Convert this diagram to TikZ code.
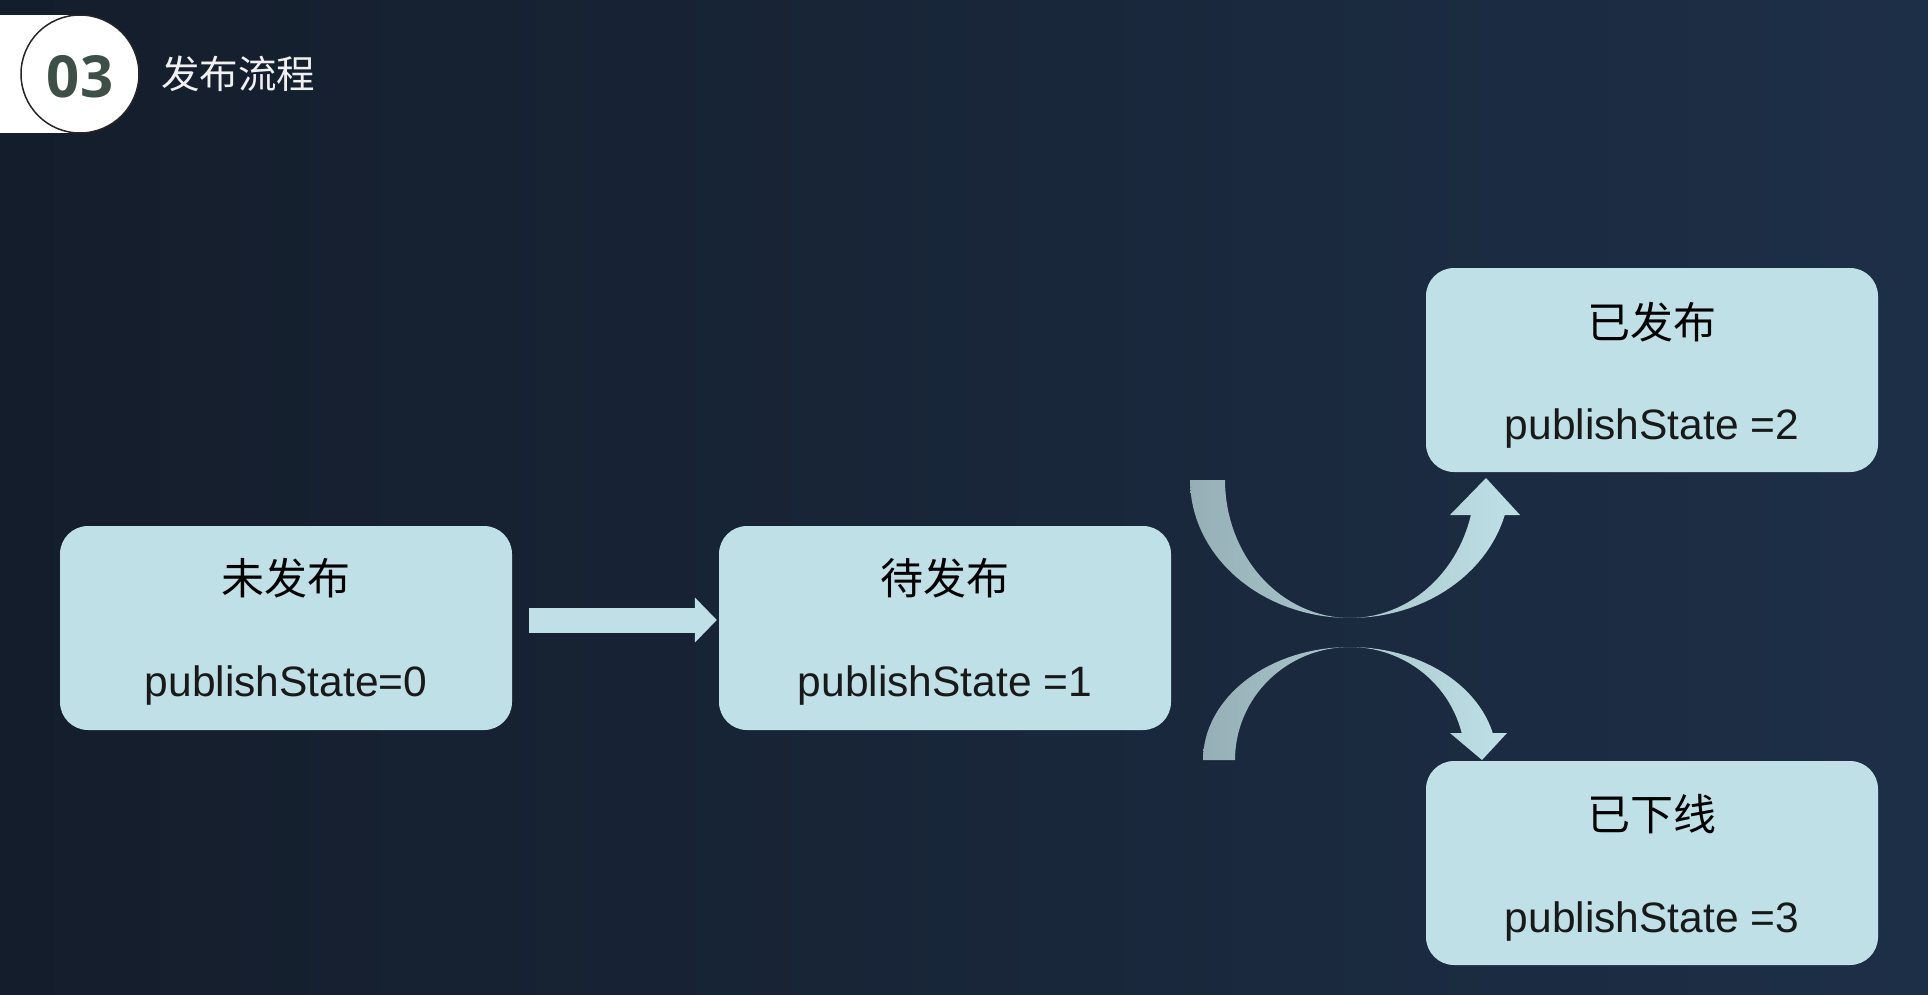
\documentclass[tikz,border=0pt]{standalone}
\usepackage{fontspec}
\setmainfont{Liberation Sans}
\newfontfamily\cjk{Noto Sans CJK SC}
\newfontfamily\numfont{Open Sans}[BoldFont={* Bold}]
\usetikzlibrary{arrows.meta}
\definecolor{bgdark}{RGB}{20,29,43}
\definecolor{bgmid}{RGB}{26,40,59}
\definecolor{bglight}{RGB}{29,47,71}
\definecolor{boxblue}{RGB}{190,224,230}
\definecolor{arrowgray}{RGB}{150,175,182}
\definecolor{numgreen}{RGB}{60,80,72}
\tikzset{
  statebox/.style={rectangle, rounded corners=28pt, fill=boxblue, minimum width=452pt, minimum height=204pt, inner sep=0pt},
  cntext/.style={font=\cjk\fontsize{43}{43}\selectfont, text=black, inner sep=0pt},
  valtext/.style={font=\fontsize{42.5}{42.5}\selectfont, text=black!90, inner sep=0pt},
  blockarrow/.style={draw=boxblue, line width=25pt, -{Triangle[length=22pt,width=44pt]}},
  curvarrow/.style={left color=arrowgray, right color=boxblue}
}
\begin{document}
\begin{tikzpicture}[x=1pt,y=-1pt]
\useasboundingbox (0,0) rectangle (1928,994);
\shade[left color=bgdark, middle color=bgmid, right color=bglight] (0,0) rectangle (1928,994);
% title
\fill[white] (0,15) rectangle (80,133);
\node[circle, fill=white, draw=black!85, line width=1.5pt, minimum size=118pt, inner sep=0pt] (num) at (80,74) {};
\node[font=\numfont\bfseries\fontsize{58}{58}\selectfont, text=numgreen, inner sep=0pt] (numtxt) at (80,77) {03};
\node[font=\cjk\fontsize{38.5}{38.5}\selectfont, text=white!94!black, anchor=west, inner sep=0pt] (title) at (161,74) {发布流程};
% boxes
\node[statebox] (b0) at (286,628) {};
\node[statebox] (b1) at (945,628) {};
\node[statebox] (b2) at (1652,370) {};
\node[statebox] (b3) at (1652,863) {};
\node[cntext] (t0) at ([yshift=50pt]b0.center) {未发布};
\node[valtext] (v0) at ([yshift=-57pt]b0.center) {publishState=0};
\node[cntext] (t1) at ([yshift=50pt]b1.center) {待发布};
\node[valtext] (v1) at ([yshift=-57pt]b1.center) {publishState =1};
\node[cntext] (t2) at ([yshift=48pt]b2.center) {已发布};
\node[valtext] (v2) at ([yshift=-59pt]b2.center) {publishState =2};
\node[cntext] (t3) at ([yshift=49pt]b3.center) {已下线};
\node[valtext] (v3) at ([yshift=-58pt]b3.center) {publishState =3};
% straight arrow
\draw[blockarrow] ([xshift=17pt,yshift=8pt]b0.east) -- ([xshift=-2pt,yshift=8pt]b1.west);
% curved arrows
\coordinate (upc) at (1350,480);
\coordinate (loc) at (1350,760);
\shade[curvarrow]
  plot[domain=180:14.7, samples=60] ({1350+160*cos(\x)},{480+138*sin(\x)})
  -- (1520,515) -- (1486,478) -- (1450,515)
  -- plot[domain=14.7:180, samples=60] ({1350+125*cos(\x)},{480+138*sin(\x)})
  -- cycle;
\shade[curvarrow]
  plot[domain=180:346.2, samples=60] ({1350+147*cos(\x)},{760+113*sin(\x)})
  -- (1507,733) -- (1482,760) -- (1450,733)
  -- plot[domain=346.2:180, samples=60] ({1350+115*cos(\x)},{760+113*sin(\x)})
  -- cycle;
\end{tikzpicture}
\end{document}
